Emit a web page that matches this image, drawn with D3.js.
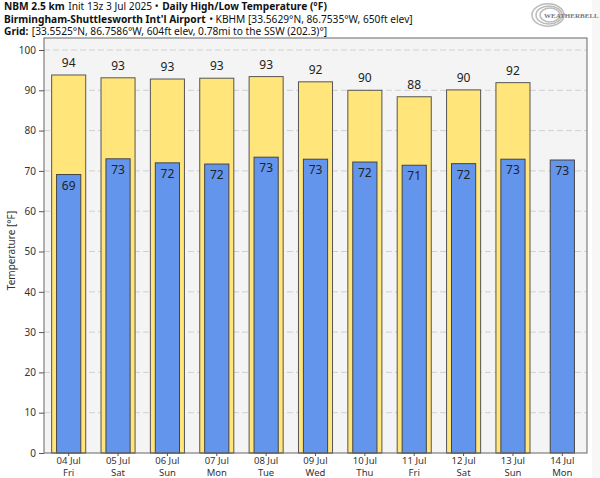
<!DOCTYPE html>
<html><head><meta charset="utf-8">
<script src="https://cdn.jsdelivr.net/npm/d3@7"></script>
<style>body{margin:0;background:#fff}svg{display:block;font-family:"Noto Sans",sans-serif}</style>
</head><body><svg id="c" width="600" height="478"></svg>
<script>
const dates = ["04 Jul","05 Jul","06 Jul","07 Jul","08 Jul","09 Jul","10 Jul","11 Jul","12 Jul","13 Jul","14 Jul"];
const days = ["Fri","Sat","Sun","Mon","Tue","Wed","Thu","Fri","Sat","Sun","Mon"];
const highs = [93.8,93.1,92.8,93.0,93.4,92.1,90.0,88.4,90.1,91.9,null];
const lows = [69.1,73.0,72.0,71.7,73.4,72.9,72.2,71.4,71.8,72.9,72.7];
const yTicks = [0,10,20,30,40,50,60,70,80,90,100];

const svg = d3.select("#c");
const L=44, R=587, T=38, B=453;
const x = d3.scaleBand().domain(dates).range([L,R]).padding(0);
const y = d3.scaleLinear().domain([0,100]).range([B,50]);

svg.append("rect").attr("x",L).attr("y",T).attr("width",R-L).attr("height",B-T).attr("fill","#f4f4f4");
svg.append("rect").attr("x",592).attr("y",0).attr("width",8).attr("height",478).attr("fill","#f7f7f7");

svg.append("g").selectAll("line").data(yTicks.filter(d=>d>0)).join("line")
  .attr("x1",L).attr("x2",R).attr("y1",d=>y(d)).attr("y2",d=>y(d))
  .attr("stroke","#d0d0d0").attr("stroke-width",1).attr("stroke-dasharray","6,3");

const hw = x.bandwidth()*0.69, lw = x.bandwidth()*0.49;
const idx = dates.map((d,i)=>i);
svg.append("g").selectAll("rect").data(idx.filter(i=>highs[i]!=null)).join("rect")
  .attr("x",i=>x(dates[i])+(x.bandwidth()-hw)/2).attr("width",hw)
  .attr("y",i=>y(highs[i])).attr("height",i=>y(0)-y(highs[i]))
  .attr("fill","#ffe57a").attr("stroke","#555").attr("stroke-width",1);
svg.append("g").selectAll("text").data(idx.filter(i=>highs[i]!=null)).join("text")
  .attr("x",i=>x(dates[i])+x.bandwidth()/2).attr("y",i=>y(highs[i])-8)
  .attr("text-anchor","middle").attr("font-size",12).attr("fill","#222")
  .text(i=>Math.round(highs[i]));
svg.append("g").selectAll("rect").data(idx).join("rect")
  .attr("x",i=>x(dates[i])+(x.bandwidth()-lw)/2).attr("width",lw)
  .attr("y",i=>y(lows[i])).attr("height",i=>y(0)-y(lows[i]))
  .attr("fill","#6495ed").attr("stroke","#444").attr("stroke-width",1);
svg.append("g").selectAll("text").data(idx).join("text")
  .attr("x",i=>x(dates[i])+x.bandwidth()/2).attr("y",i=>y(lows[i])+15)
  .attr("text-anchor","middle").attr("font-size",12).attr("fill","#222")
  .text(i=>Math.round(lows[i]));

svg.append("rect").attr("x",L).attr("y",T).attr("width",R-L).attr("height",B-T)
  .attr("fill","none").attr("stroke","#666").attr("stroke-width",1);

const ya = svg.append("g").attr("transform",`translate(${L},0)`)
  .call(d3.axisLeft(y).tickValues(yTicks).tickSize(5).tickPadding(3));
ya.select(".domain").remove();
ya.selectAll("line").attr("stroke","#555");
ya.selectAll("text").attr("font-size",10).attr("fill","#333").attr("font-family","Noto Sans");

const xa = svg.append("g").attr("transform",`translate(0,${B})`)
  .call(d3.axisBottom(x).tickSize(3).tickFormat(""));
xa.select(".domain").remove();
xa.selectAll("line").attr("stroke","#555");
const xl = svg.append("g");
xl.selectAll("text.d").data(idx).join("text").attr("class","d")
  .attr("x",i=>x(dates[i])+x.bandwidth()/2).attr("y",464)
  .attr("text-anchor","middle").attr("font-size",9.5).attr("fill","#333").text(i=>dates[i]);
xl.selectAll("text.w").data(idx).join("text").attr("class","w")
  .attr("x",i=>x(dates[i])+x.bandwidth()/2).attr("y",475.5)
  .attr("text-anchor","middle").attr("font-size",9.5).attr("fill","#333").text(i=>days[i]);

svg.append("text").attr("transform",`translate(15,${(T+B)/2+5}) rotate(-90)`)
  .attr("text-anchor","middle").attr("font-size",10).attr("fill","#333").text("Temperature [°F]");

const headerLines = [
  [["NBM 2.5 km",true],["Init 13z 3 Jul 2025 •",false],["Daily High/Low Temperature (°F)",true]],
  [["Birmingham-Shuttlesworth Int'l Airport",true],["• KBHM [33.5629°N, 86.7535°W, 650ft elev]",false]],
  [["Grid:",true],["[33.5525°N, 86.7586°W, 604ft elev, 0.78mi to the SSW (202.3)°]",false]]
];
const h = svg.append("g").attr("font-size",10.2).attr("fill","#111");
headerLines.forEach((parts,li)=>{
  let cx = 4;
  parts.forEach(p=>{
    const t = h.append("text").attr("x",cx).attr("y",10+li*12.5)
      .attr("font-weight",p[1]?"bold":"normal").text(p[0]);
    cx += t.node().getComputedTextLength() + 3.5;
  });
});

const lg = svg.append("g").attr("transform","translate(552,15)");
[16,13,10].forEach((r,k)=>lg.append("ellipse").attr("cx",-4+k).attr("cy",0).attr("rx",r).attr("ry",r*0.7)
  .attr("fill","none").attr("stroke","#bbb").attr("stroke-width",1.5));
lg.append("text").attr("x",-8).attr("y",3).attr("font-size",7).attr("font-family","Liberation Serif")
  .attr("fill","#777").attr("font-weight","bold").text("WEATHERBELL");
</script></body></html>
